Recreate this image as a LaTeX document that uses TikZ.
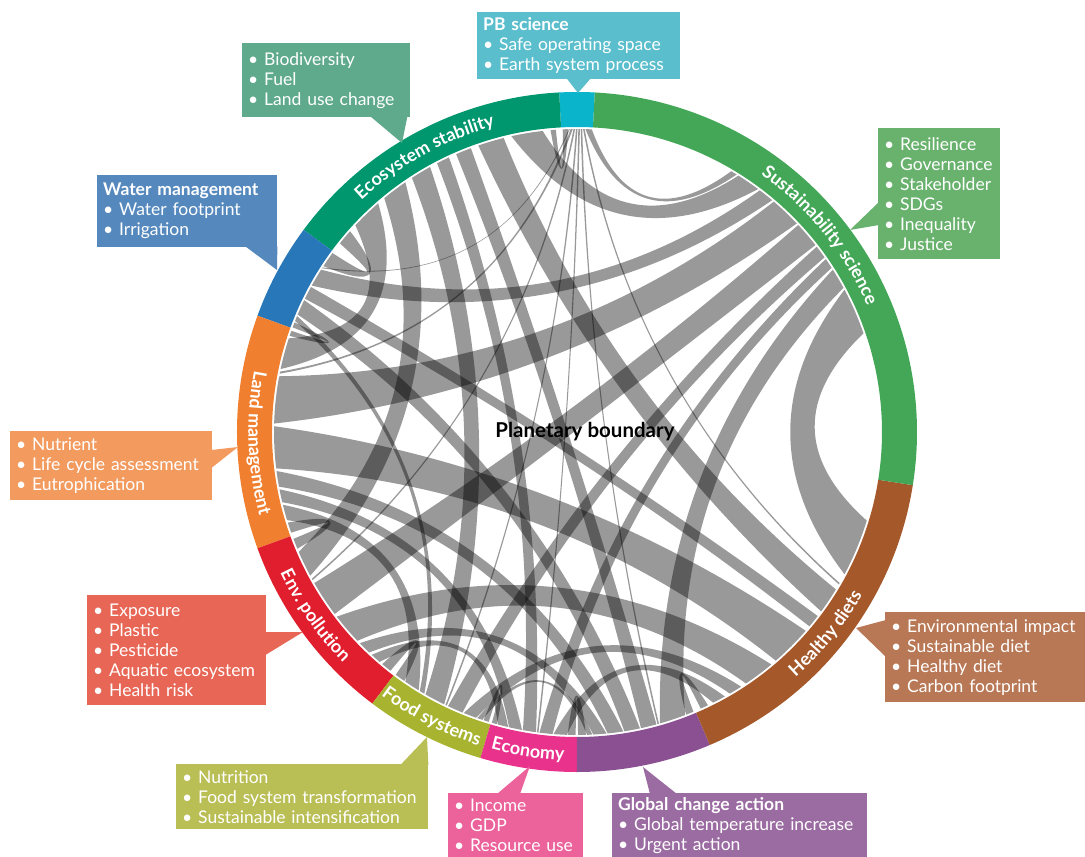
\documentclass[tikz,border=0pt]{standalone}
\usepackage{fontspec}
\setmainfont{Lato}
\usetikzlibrary{calc, decorations.text}

% Ring colours
\definecolor{pbring}{HTML}{0AB4CA}
\definecolor{ecoring}{HTML}{00966E}
\definecolor{sustring}{HTML}{43A757}
\definecolor{waterring}{HTML}{2878B9}
\definecolor{landring}{HTML}{F08030}
\definecolor{envring}{HTML}{E11E2D}
\definecolor{foodring}{HTML}{A8B430}
\definecolor{econring}{HTML}{E8328C}
\definecolor{globring}{HTML}{8A5091}
\definecolor{dietring}{HTML}{A5582A}
% Box colours
\definecolor{pbbg}{HTML}{5ABECD}
\definecolor{ecobg}{HTML}{5FAA8C}
\definecolor{sustbg}{HTML}{69B26E}
\definecolor{waterbg}{HTML}{5589BE}
\definecolor{landbg}{HTML}{F39B5F}
\definecolor{envbg}{HTML}{E86655}
\definecolor{foodbg}{HTML}{B9BE55}
\definecolor{econbg}{HTML}{EC629B}
\definecolor{globbg}{HTML}{9B6CA2}
\definecolor{dietbg}{HTML}{B97855}

\newcommand{\boxfont}{\fontsize{17.5}{20}\selectfont}
\newcommand{\ringfont}{\fontsize{18}{18}\selectfont\bfseries}
\def\rc{303pt}

% bending of one ribbon edge from angle #1 to angle #2
\newcommand{\edgecoef}[2]{%
  \pgfmathsetmacro{\dd}{mod(#2-#1+720,360)}%
  \pgfmathsetmacro{\dd}{min(\dd,360-\dd)}%
  \pgfmathsetmacro{\kk}{0.75-0.5*\dd/180}%
  \pgfmathsetmacro{\cnear}{(1+\kk)/3}%
  \pgfmathsetmacro{\cfar}{\kk/3}}
% ribbon between arc [#1,#2] and arc [#3,#4]
\newcommand{\ribbon}[4]{%
  \edgecoef{#2}{#3}\let\na\cnear\let\fa\cfar
  \edgecoef{#4}{#1}\let\nb\cnear\let\fb\cfar
  \fill[chord] (#1:\rc) arc[start angle=#1, end angle=#2, radius=\rc]
    .. controls ($\na*(#2:\rc)+\fa*(#3:\rc)$) and ($\fa*(#2:\rc)+\na*(#3:\rc)$) .. (#3:\rc)
    arc[start angle=#3, end angle=#4, radius=\rc]
    .. controls ($\nb*(#4:\rc)+\fb*(#1:\rc)$) and ($\fb*(#4:\rc)+\nb*(#1:\rc)$) .. (#1:\rc) -- cycle;}
% ring sector
\newcommand{\ringseg}[3]{%
  \fill[#1] (#2:340pt) arc[start angle=#2, end angle=#3, radius=340pt]
    -- (#3:305pt) arc[start angle=#3, end angle=#2, radius=305pt] -- cycle;}
% curved label on the ring
\newcommand{\ringlabel}[4]{%
  \path[decorate, decoration={text along path, text align=center, text color=white,
    text={|\ringfont|#4}}] (#2:#1) arc[start angle=#2, end angle=#3, radius=#1];}

\begin{document}
\begin{tikzpicture}[x=1pt, y=1pt,
  chord/.style={fill=black, fill opacity=0.4},
  box/.style={anchor=north west, inner xsep=6pt, inner ysep=0pt, align=left,
    text=white, font=\boxfont}]
\useasboundingbox (-577,-425) rectangle (508,432);
% Chords
\ribbon{87.2}{88.4}{58.2}{59.4}
\ribbon{88.55}{88.85}{329.8}{330.1}
\ribbon{89.0}{89.3}{285.4}{285.7}
\ribbon{89.45}{89.75}{262.4}{262.7}
\ribbon{89.9}{90.2}{244.25}{244.55}
\ribbon{90.35}{90.65}{208.95}{209.25}
\ribbon{90.8}{91.2}{168.5}{168.9}
\ribbon{91.35}{91.55}{147.1}{147.3}
\ribbon{91.7}{92.7}{94}{95}
\ribbon{96.5}{102.5}{53.3}{57.8}
\ribbon{104}{109}{323.7}{328.7}
\ribbon{110.5}{113.5}{282.2}{285.2}
\ribbon{115}{117.5}{259.72}{262.22}
\ribbon{119}{123}{240}{244}
\ribbon{124.5}{129.5}{203.3}{208.3}
\ribbon{131}{137}{162}{168}
\ribbon{138.5}{141.5}{143.8}{146.8}
\ribbon{147.6}{151.1}{49.9}{52.9}
\ribbon{151.4}{153.9}{320.1}{322.6}
\ribbon{154.2}{157.2}{279}{282}
\ribbon{157.5}{158.5}{238.75}{239.75}
\ribbon{158.8}{159.8}{160.5}{161.5}
\ribbon{169.4}{178.4}{43.5}{49.5}
\ribbon{178.9}{186.9}{311}{319}
\ribbon{187.4}{190.4}{275.8}{278.8}
\ribbon{190.9}{193.4}{257.04}{259.54}
\ribbon{193.9}{196.9}{235.5}{238.5}
\ribbon{197.4}{199.4}{200.65}{202.65}
\ribbon{209.9}{216.9}{38.1}{43.1}
\ribbon{217.55}{223.55}{303.9}{309.9}
\ribbon{224.2}{226.7}{273.1}{275.6}
\ribbon{227.35}{229.35}{254.86}{256.86}
\ribbon{230}{232}{233.25}{235.25}
\ribbon{244.8}{247.8}{35.2}{37.7}
\ribbon{248.05}{250.55}{300.3}{302.8}
\ribbon{250.8}{251.8}{271.9}{272.9}
\ribbon{252.05}{253.05}{253.68}{254.68}
\ribbon{262.88}{265.38}{32.8}{34.8}
\ribbon{265.56}{268.06}{296.7}{299.2}
\ribbon{268.24}{269.74}{270.2}{271.7}
\ribbon{285.9}{290.9}{28.4}{32.4}
\ribbon{291.1}{292.6}{294.1}{295.6}
\ribbon{332}{343}{19}{28}
% Ring
\ringseg{pbring}{87}{93}
\ringseg{ecoring}{93}{143.5}
\ringseg{waterring}{143.5}{160}
\ringseg{landring}{160}{200}
\ringseg{envring}{200}{233}
\ringseg{foodring}{233}{253.5}
\ringseg{econring}{253.5}{270}
\ringseg{globring}{270}{293}
\ringseg{dietring}{293}{351}
\ringseg{sustring}{-9}{87}
% Ring labels
\ringlabel{316.5pt}{138}{100}{Ecosystem stability}
\ringlabel{316.5pt}{66}{12}{Sustainability science}
\ringlabel{328.5pt}{160}{204}{Land management}
\ringlabel{328.5pt}{199}{231}{Env. pollution}
\ringlabel{328.5pt}{232}{254}{Food systems}
\ringlabel{328.5pt}{252.5}{270}{Economy}
\ringlabel{328.5pt}{302}{340}{Healthy diets}
% Centre
\node[font=\fontsize{20.5}{20.5}\selectfont\bfseries] (centre) at (8,0) {Planetary boundary};
% Boxes
\node[box, fill=pbbg, text width=191pt, minimum height=67pt] (pbbox) at (-100,420)
  {\textbf{PB science}\\• Safe operating space\\• Earth system process};
\node[box, fill=ecobg, text width=156pt, minimum height=74pt] (ecobox) at (-335,389)
  {• Biodiversity\\• Fuel\\• Land use change};
\node[box, fill=sustbg, text width=110pt, minimum height=131pt] (sustbox) at (301,304)
  {• Resilience\\• Governance\\• Stakeholder\\• SDGs\\• Inequality\\• Justice};
\node[box, fill=waterbg, text width=168pt, minimum height=72pt] (waterbox) at (-480,257)
  {\textbf{Water management}\\• Water footprint\\• Irrigation};
\node[box, fill=landbg, text width=190pt, minimum height=69pt] (landbox) at (-567,1)
  {• Nutrient\\• Life cycle assessment\\• Eutrophication};
\node[box, fill=envbg, text width=167pt, minimum height=110pt] (envbox) at (-490,-163)
  {• Exposure\\• Plastic\\• Pesticide\\• Aquatic ecosystem\\• Health risk};
\node[box, fill=foodbg, text width=240pt, minimum height=65pt] (foodbox) at (-401,-332)
  {• Nutrition\\• Food system transformation\\• Sustainable intensification};
\node[box, fill=econbg, text width=123pt, minimum height=64pt] (econbox) at (-129,-361)
  {• Income\\• GDP\\• Resource use};
\node[box, fill=globbg, text width=243pt, minimum height=64pt] (globbox) at (35,-361)
  {\textbf{Global change action}\\• Global temperature increase\\• Urgent action};
\node[box, fill=dietbg, text width=188pt, minimum height=90pt] (dietbox) at (308,-180)
  {• Environmental impact\\• Sustainable diet\\• Healthy diet\\• Carbon footprint};
% Pointer tips on the ring
\coordinate (pbtip) at (1,339);
\coordinate (ecotip) at (-175,289);
\coordinate (susttip) at (273,202);
\coordinate (watertip) at (-300,162);
\coordinate (landtip) at (-339,-15);
\coordinate (envtip) at (-274,-200);
\coordinate (foodtip) at (-150,-305);
\coordinate (econtip) at (-47,-334);
\coordinate (globtip) at (66,-335);
\coordinate (diettip) at (279,-196);
% Pointers
\fill[pbbg] ($(pbbox.south)+(-12,1)$) -- (pbtip) -- ($(pbbox.south)+(12,1)$) -- cycle;
\fill[ecobg] ($(ecobox.south east)+(-40,1)$) -- (ecotip) -- ($(ecobox.south east)+(-3,1)$) -- cycle;
\fill[sustbg] ($(sustbox.north west)+(1,-74)$) -- (susttip) -- ($(sustbox.north west)+(1,-97)$) -- cycle;
\fill[waterbg] ($(waterbox.south east)+(-32,1)$) -- (watertip) -- ($(waterbox.south east)+(0,1)$) -- cycle;
\fill[landbg] ($(landbox.north east)+(-1,-19)$) -- (landtip) -- ($(landbox.north east)+(-1,-37)$) -- cycle;
\fill[envbg] ($(envbox.north east)+(-1,-37)$) -- (envtip) -- ($(envbox.north east)+(-1,-60)$) -- cycle;
\fill[foodbg] ($(foodbox.north east)+(-28,-1)$) -- (foodtip) -- ($(foodbox.north east)+(0,-1)$) -- cycle;
\fill[econbg] ($(econbox.north west)+(49,-1)$) -- (econtip) -- ($(econbox.north west)+(72,-1)$) -- cycle;
\fill[globbg] ($(globbox.north west)+(38,-1)$) -- (globtip) -- ($(globbox.north west)+(65,-1)$) -- cycle;
\fill[dietbg] ($(dietbox.north west)+(1,-8)$) -- (diettip) -- ($(dietbox.north west)+(1,-45)$) -- cycle;
\end{tikzpicture}
\end{document}
